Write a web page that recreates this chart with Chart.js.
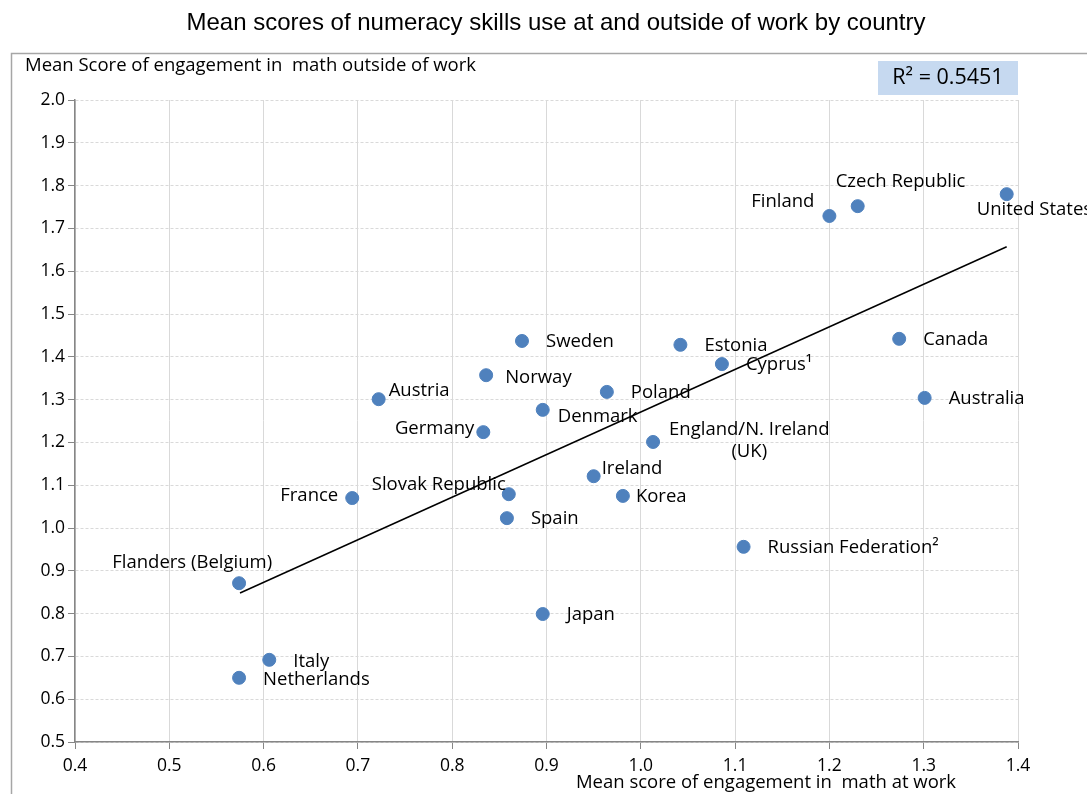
<!DOCTYPE html>
<html>
<head>
<meta charset="utf-8">
<script src="https://cdn.jsdelivr.net/npm/chart.js@4"></script>
<style>
  html, body { margin: 0; padding: 0; background: #fff; }
  #wrap { position: relative; width: 1087px; height: 794px; }
</style>
</head>
<body>
<div id="wrap"><canvas id="chart" width="1087" height="794"></canvas></div>
<script>
// ─── Data ────────────────────────────────────────────
var countries = [
    'United States', 'Czech Republic', 'Finland', 'Sweden', 'Estonia', 'Canada',
    'Cyprus\u00b9', 'Norway', 'Poland', 'Austria', 'Australia', 'Denmark', 'Germany',
    'England/N. Ireland|(UK)', 'Ireland', 'Slovak Republic', 'Korea', 'France', 'Spain',
    'Russian Federation\u00b2', 'Flanders (Belgium)', 'Japan', 'Italy', 'Netherlands'
];
var atWork = [
    1.388, 1.230, 1.200, 0.874, 1.042, 1.274,
    1.086, 0.836, 0.964, 0.722, 1.301, 0.896, 0.833,
    1.013, 0.950, 0.860, 0.981, 0.694, 0.858,
    1.109, 0.574, 0.896, 0.606, 0.574
];
var outsideWork = [
    1.780, 1.752, 1.729, 1.437, 1.428, 1.442,
    1.383, 1.357, 1.318, 1.301, 1.304, 1.276, 1.224,
    1.201, 1.121, 1.079, 1.075, 1.070, 1.023,
    0.956, 0.871, 0.799, 0.692, 0.650
];
var trendX = [0.575, 1.388];
var trendY = [0.848, 1.657];
var rSquared = '0.5451';

var xTicks = [0.4, 0.5, 0.6, 0.7, 0.8, 0.9, 1.0, 1.1, 1.2, 1.3, 1.4];
var yTicks = [0.5, 0.6, 0.7, 0.8, 0.9, 1.0, 1.1, 1.2, 1.3, 1.4, 1.5, 1.6, 1.7, 1.8, 1.9, 2.0];

var chartTitle = 'Mean scores of numeracy skills use at and outside of work by country';
var xTitle = 'Mean score of engagement in  math at work';
var yTitle = 'Mean Score of engagement in  math outside of work';

// label placement next to each point: [dx, dy, align]
var labelPlace = {
    'United States': [-30, 16, 'left'],
    'Czech Republic': [-22, -24, 'left'],
    'Finland': [-15, -14, 'right'],
    'Norway': [19, 3, 'left'],
    'Austria': [10, -8, 'left'],
    'Denmark': [15, 7, 'left'],
    'Germany': [-9, -3, 'right'],
    'England/N. Ireland|(UK)': [16, -12, 'left'],
    'Ireland': [8, -7, 'left'],
    'Slovak Republic': [-3, -9, 'right'],
    'Korea': [13, 1, 'left'],
    'France': [-14, -2, 'right'],
    'Flanders (Belgium)': [33, -20, 'right'],
    'Netherlands': [24, 2, 'left'],
    'Italy': [24, 2, 'left']
};

var points = atWork.map(function(x, i) { return { x: x, y: outsideWork[i] }; });
var trend = trendX.map(function(x, i) { return { x: x, y: trendY[i] }; });

var sansFont = '"Open Sans", sans-serif';

// ─── Plugins ─────────────────────────────────────────
var decor = {
    id: 'decor',
    beforeDraw: function(chart) {
        var ctx = chart.ctx;
        ctx.save();
        ctx.strokeStyle = '#a6a6a6';
        ctx.lineWidth = 1.5;
        ctx.strokeRect(11.5, 53.5, 1200, 800);
        ctx.restore();
    },
    afterDraw: function(chart) {
        var ctx = chart.ctx;
        ctx.save();
        ctx.fillStyle = '#000';
        ctx.textBaseline = 'middle';
        ctx.textAlign = 'center';
        ctx.font = '24px "Liberation Sans", Arial, sans-serif';
        ctx.fillText(chartTitle, 556, 23);

        ctx.font = '18.5px ' + sansFont;
        ctx.textAlign = 'left';
        ctx.fillText(yTitle, 25, 66);
        ctx.textAlign = 'center';
        ctx.fillText(xTitle, 766, 783);

        // R² box
        ctx.fillStyle = '#c6d9f0';
        ctx.fillRect(878, 61, 140, 34);
        ctx.fillStyle = '#000';
        ctx.font = '21.5px ' + sansFont;
        ctx.fillText('R\u00b2 = ' + rSquared, 948, 78);

        // point labels
        var meta = chart.getDatasetMeta(0);
        ctx.font = '18.5px ' + sansFont;
        meta.data.forEach(function(el, i) {
            var name = countries[i];
            var p = labelPlace[name] || [24, 1, 'left'];
            var x = el.x + p[0], y = el.y + p[1];
            var lines = name.split('|');
            ctx.textAlign = p[2];
            ctx.fillText(lines[0], x, y);
            if (lines[1]) {
                var w = ctx.measureText(lines[0]).width;
                ctx.textAlign = 'center';
                ctx.fillText(lines[1], x + w / 2, y + 22);
            }
        });
        ctx.restore();
    }
};

// ─── Chart ───────────────────────────────────────────
new Chart(document.getElementById('chart').getContext('2d'), {
    type: 'scatter',
    data: {
        datasets: [{
            label: 'Countries',
            data: points,
            backgroundColor: '#4f81bd',
            borderColor: '#4f81bd',
            pointRadius: 6.5,
            pointHoverRadius: 6.5,
            order: 1
        }, {
            label: 'Trend',
            data: trend,
            showLine: true,
            borderColor: '#000',
            borderWidth: 1.5,
            pointRadius: 0,
            fill: false,
            order: 2
        }]
    },
    options: {
        responsive: false,
        animation: false,
        layout: { padding: { left: 0, top: 100, right: 69, bottom: 0 } },
        plugins: { legend: { display: false }, tooltip: { enabled: false } },
        scales: {
            x: {
                type: 'linear', min: 0.4, max: 1.4,
                afterBuildTicks: function(s) { s.ticks = xTicks.map(function(v) { return { value: v }; }); },
                afterFit: function(s) { s.height = 52; },
                grid: { color: '#d9d9d9', tickColor: '#868686', tickLength: 7 },
                border: { color: '#868686', width: 1.5 },
                ticks: {
                    color: '#000', padding: 7,
                    font: { family: sansFont, size: 17.5 },
                    callback: function(v) { return v.toFixed(1); }
                }
            },
            y: {
                type: 'linear', min: 0.5, max: 2.0,
                afterBuildTicks: function(s) { s.ticks = yTicks.map(function(v) { return { value: v }; }); },
                afterFit: function(s) { s.width = 75; },
                grid: { color: '#d9d9d9', tickColor: '#868686', tickLength: 7 },
                border: { color: '#868686', width: 1.5, dash: [3, 2] },
                ticks: {
                    color: '#000', padding: 3,
                    font: { family: sansFont, size: 17.5 },
                    callback: function(v) { return v.toFixed(1); }
                }
            }
        }
    },
    plugins: [decor]
});
</script>
</body>
</html>
